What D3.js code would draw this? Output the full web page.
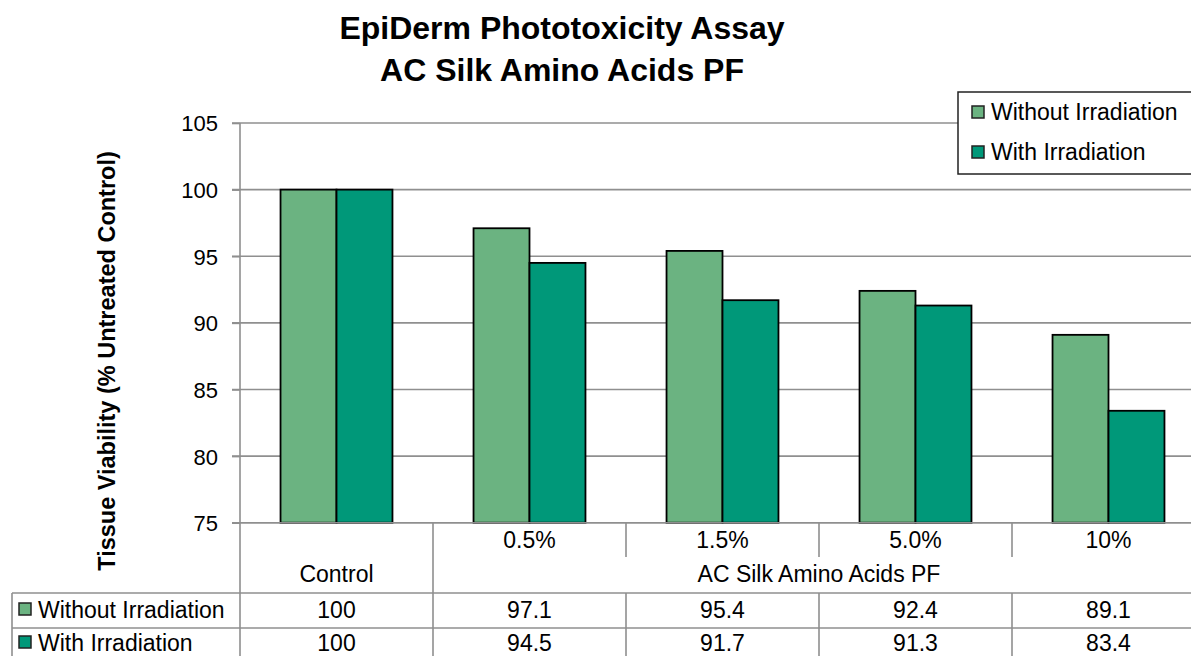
<!DOCTYPE html>
<html>
<head>
<meta charset="utf-8">
<script src="https://cdn.jsdelivr.net/npm/d3@7"></script>
<style>
  body { margin: 0; background: #fff; overflow: hidden; }
  text { font-family: "Liberation Sans", Arial, sans-serif; fill: #000; }
</style>
</head>
<body>
<svg width="1191" height="656"></svg>
<script>
var categories = ["Control", "0.5%", "1.5%", "5.0%", "10%"];
var seriesNames = ["Without Irradiation", "With Irradiation"];
var withoutIrr = [100, 97.1, 95.4, 92.4, 89.1];
var withIrr = [100, 94.5, 91.7, 91.3, 83.4];
var cellText = [["100", "97.1", "95.4", "92.4", "89.1"], ["100", "94.5", "91.7", "91.3", "83.4"]];
var yTicks = [75, 80, 85, 90, 95, 100, 105];
var colors = ["#6bb381", "#009879"];

var svg = d3.select("svg"),
    margin = {top: 123, left: 240},
    plotRight = 1205,
    plotBottom = 522.7;

var gridColor = "#8f8f8f";

var x0 = d3.scaleBand().domain(categories).range([margin.left, plotRight]).padding(0);
var bw = x0.bandwidth();
var x1 = d3.scaleBand().domain(seriesNames).range([bw * 0.21, bw * 0.79]).padding(0);
var y = d3.scaleLinear().domain([75, 105]).range([plotBottom, margin.top]);

// title
svg.append("text").attr("x", 562).attr("y", 39).attr("text-anchor", "middle")
    .style("font-size", "32px").style("font-weight", "bold")
    .text("EpiDerm Phototoxicity Assay");
svg.append("text").attr("x", 562).attr("y", 81).attr("text-anchor", "middle")
    .style("font-size", "32px").style("font-weight", "bold")
    .text("AC Silk Amino Acids PF");

// gridlines
svg.append("g").selectAll("line").data(yTicks).enter().append("line")
    .attr("x1", margin.left - 8).attr("x2", plotRight)
    .attr("y1", function(d) { return y(d); }).attr("y2", function(d) { return y(d); })
    .style("stroke", gridColor).style("stroke-width", 1.6);

// y axis
var yAxis = svg.append("g").attr("transform", "translate(" + margin.left + ",0)")
    .call(d3.axisLeft(y).tickValues(yTicks).tickSize(8).tickPadding(14));
yAxis.select(".domain").remove();
yAxis.selectAll(".tick line").style("stroke", gridColor).style("stroke-width", 1.6);
yAxis.selectAll(".tick text").style("font-size", "22px").style("fill", "#000")
    .style("font-family", "'Liberation Sans', Arial, sans-serif").attr("dy", "0.36em");

svg.append("text")
    .attr("transform", "translate(115,361) rotate(-90)")
    .attr("text-anchor", "middle")
    .style("font-size", "23.5px").style("font-weight", "bold")
    .text("Tissue Viability  (% Untreated Control)");

// bars
var seriesData = [withoutIrr, withIrr];
seriesData.forEach(function(vals, s) {
    svg.append("g").selectAll("rect").data(vals).enter().append("rect")
        .attr("x", function(d, i) { return x0(categories[i]) + x1(seriesNames[s]); })
        .attr("y", function(d) { return y(d); })
        .attr("width", x1.bandwidth())
        .attr("height", function(d) { return plotBottom - y(d); })
        .style("fill", colors[s])
        .style("stroke", "#000").style("stroke-width", 1.8);
});

// data table
var table = svg.append("g");
var rowY = [plotBottom, 557, 593, 628, 680];

function hline(x1p, x2p, yp) {
    table.append("line").attr("x1", x1p).attr("x2", x2p).attr("y1", yp).attr("y2", yp)
        .style("stroke", gridColor).style("stroke-width", 1.6);
}
function vline(xp, y1p, y2p) {
    table.append("line").attr("x1", xp).attr("x2", xp).attr("y1", y1p).attr("y2", y2p)
        .style("stroke", gridColor).style("stroke-width", 1.6);
}

hline(margin.left - 8, plotRight, plotBottom);
hline(12, plotRight, rowY[2]);
hline(12, plotRight, rowY[3]);
vline(12, rowY[2], 660);
vline(margin.left, margin.top, 660);
vline(x0("0.5%"), plotBottom, 660);
categories.slice(2).forEach(function(c) {
    vline(x0(c), plotBottom, rowY[1]);
    vline(x0(c), rowY[2], 660);
});
vline(plotRight, plotBottom, 660);

categories.forEach(function(c, i) {
    if (i > 0) {
        table.append("text").attr("x", x0(c) + bw / 2).attr("y", 548)
            .attr("text-anchor", "middle").style("font-size", "23px").text(c);
    }
});
table.append("text").attr("x", x0("Control") + bw / 2).attr("y", 582)
    .attr("text-anchor", "middle").style("font-size", "23px").text("Control");
table.append("text").attr("x", (x0("0.5%") + plotRight) / 2).attr("y", 582)
    .attr("text-anchor", "middle").style("font-size", "23px").text("AC Silk Amino Acids PF");

var rowBase = [618, 651];
cellText.forEach(function(row, r) {
    table.append("rect").attr("x", 19).attr("y", rowBase[r] - 15).attr("width", 12).attr("height", 12)
        .style("fill", colors[r]).style("stroke", "#222").style("stroke-width", 1.5);
    table.append("text").attr("x", 38).attr("y", rowBase[r])
        .style("font-size", "23px").text(seriesNames[r]);
    row.forEach(function(v, i) {
        table.append("text").attr("x", x0(categories[i]) + bw / 2).attr("y", rowBase[r])
            .attr("text-anchor", "middle").style("font-size", "23px").text(v);
    });
});

// legend
var legend = svg.append("g");
legend.append("rect").attr("x", 958).attr("y", 92).attr("width", 260).attr("height", 82)
    .style("fill", "#fff").style("stroke", "#222").style("stroke-width", 1.5);
seriesNames.forEach(function(n, i) {
    var ly = 112 + i * 40;
    legend.append("rect").attr("x", 972).attr("y", ly - 6).attr("width", 12).attr("height", 12)
        .style("fill", colors[i]).style("stroke", "#222").style("stroke-width", 1.5);
    legend.append("text").attr("x", 991).attr("y", ly + 8)
        .style("font-size", "23px").text(n);
});
</script>
</body>
</html>
